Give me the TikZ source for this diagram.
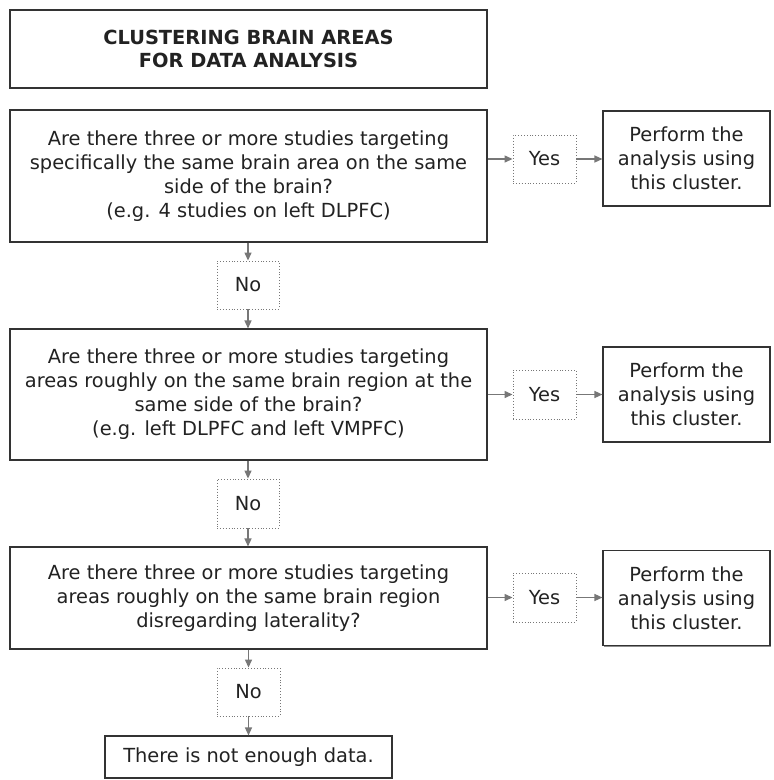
\documentclass[tikz,border=0pt]{standalone}
\usepackage{fontspec}
\setmainfont{DejaVu Sans}
\usetikzlibrary{arrows.meta,shadows}
\definecolor{boxline}{HTML}{333333}
\definecolor{arrowgray}{HTML}{777777}
\definecolor{txt}{HTML}{222222}
\tikzset{
  mainbox/.style={draw=boxline, line width=1.1pt, fill=white, inner sep=0pt, align=center,
    text=txt, font=\fontsize{19.4}{24}\selectfont,
    drop shadow={shadow xshift=1pt, shadow yshift=-1pt, fill=black!45, opacity=1}},
  decbox/.style={draw=arrowgray, dotted, line width=0.9pt, inner sep=0pt, align=center,
    text=txt, font=\fontsize{19.4}{24}\selectfont},
  conn/.style={draw=arrowgray, line width=1.3pt, -{Triangle[length=8pt,width=7pt]}}
}
\begin{document}
\begin{tikzpicture}[x=1pt,y=-1pt]
\useasboundingbox (0,0) rectangle (774,780);
% title
\node[mainbox, minimum width=477pt, minimum height=78pt, font=\bfseries\fontsize{19.4}{23.5}\selectfont] (title) at (248.5,49) {CLUSTERING BRAIN AREAS\\FOR DATA ANALYSIS};
% row 1
\node[mainbox, minimum width=477pt, minimum height=132pt] (q1) at (248.5,176) {\raisebox{-3pt}{\parbox{470pt}{\centering Are there three or more studies targeting\\specifically the same brain area on the same\\side of the brain?\\(e.g. 4 studies on left DLPFC)}}};
\node[decbox, minimum width=63pt, minimum height=48pt] (y1) at (544.5,159) {Yes};
\node[mainbox, minimum width=167pt, minimum height=95pt] (r1) at (686.5,158.5) {Perform the\\analysis using\\this cluster.};
\node[decbox, minimum width=62pt, minimum height=48pt] (n1) at (248,285) {No};
% row 2
\node[mainbox, minimum width=477pt, minimum height=131pt] (q2) at (248.5,394.5) {Are there three or more studies targeting\\areas roughly on the same brain region at the\\same side of the brain?\\(e.g. left DLPFC and left VMPFC)};
\node[decbox, minimum width=63pt, minimum height=49pt] (y2) at (544.5,394.5) {Yes};
\node[mainbox, minimum width=167pt, minimum height=95pt] (r2) at (686.5,394.5) {Perform the\\analysis using\\this cluster.};
\node[decbox, minimum width=62pt, minimum height=49pt] (n2) at (248,503.5) {No};
% row 3
\node[mainbox, minimum width=477pt, minimum height=102pt] (q3) at (248.5,598) {Are there three or more studies targeting\\areas roughly on the same brain region\\disregarding laterality?};
\node[decbox, minimum width=63pt, minimum height=49pt] (y3) at (544.5,597.5) {Yes};
\node[mainbox, minimum width=167pt, minimum height=95pt] (r3) at (686.5,598) {Perform the\\analysis using\\this cluster.};
\node[decbox, minimum width=63pt, minimum height=48pt] (n3) at (248.5,692) {No};
% final
\node[mainbox, minimum width=287pt, minimum height=42pt] (fin) at (248.5,757) {There is not enough data.};
% connectors
\draw[conn] (q1.east |- y1) -- (y1.west);
\draw[conn] (y1.east) -- (r1.west |- y1);
\draw[conn] (q1.south -| n1) -- (n1.north);
\draw[conn] (n1.south) -- (q2.north -| n1);
\draw[conn] (q2.east |- y2) -- (y2.west);
\draw[conn] (y2.east) -- (r2.west |- y2);
\draw[conn] (q2.south -| n2) -- (n2.north);
\draw[conn] (n2.south) -- (q3.north -| n2);
\draw[conn] (q3.east |- y3) -- (y3.west);
\draw[conn] (y3.east) -- (r3.west |- y3);
\draw[conn] (q3.south -| n3) -- (n3.north);
\draw[conn] (n3.south) -- (fin.north -| n3);
\end{tikzpicture}
\end{document}
